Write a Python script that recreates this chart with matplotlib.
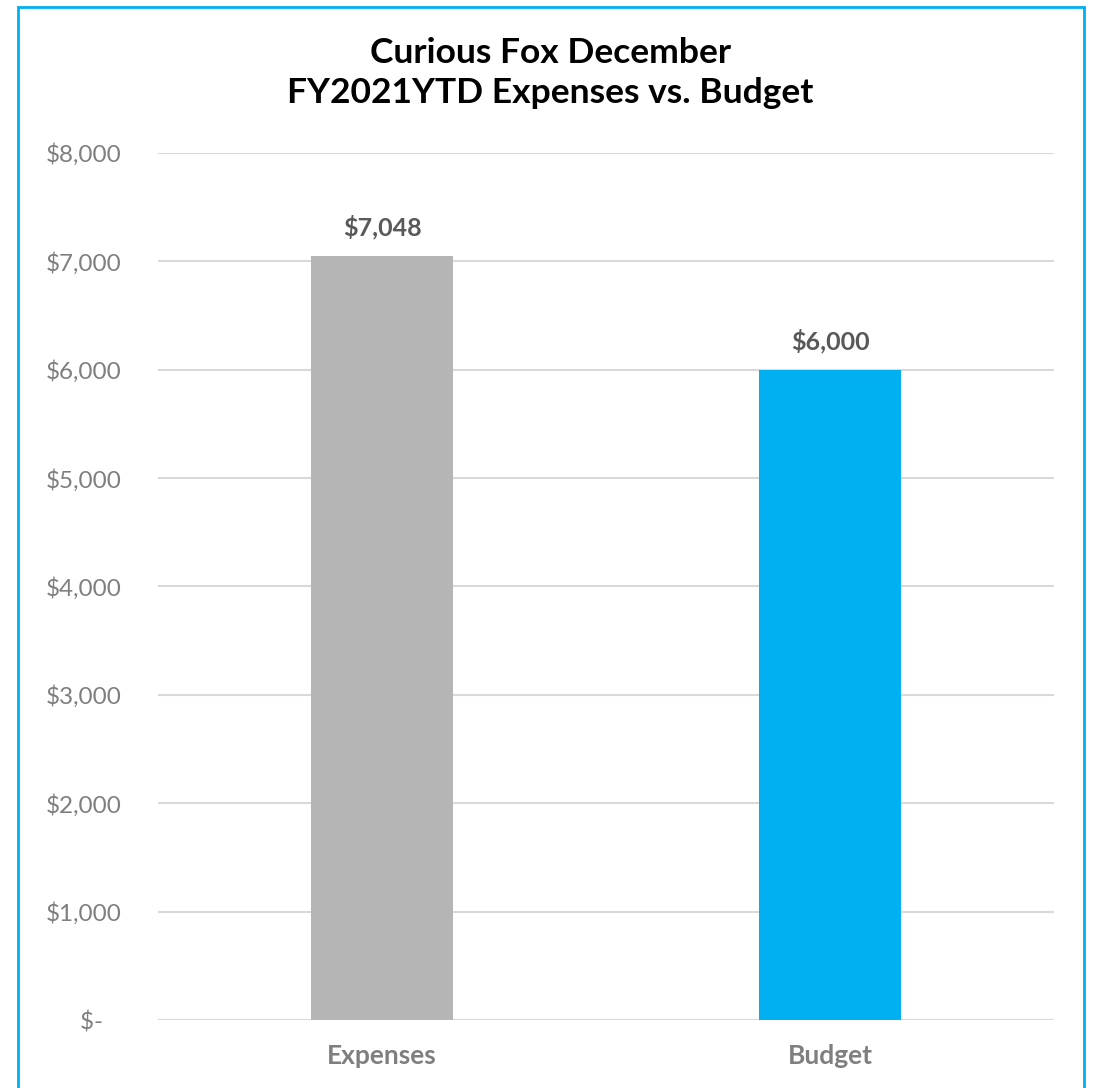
import matplotlib.pyplot as plt
from matplotlib.patches import Rectangle

# Data
categories = ['Expenses', 'Budget']
amounts = [7048, 6000]
bar_colors = ['#B5B5B5', '#00B0F0']
tick_values = [0, 1000, 2000, 3000, 4000, 5000, 6000, 7000, 8000]
tick_labels = ['$-   ', '$1,000', '$2,000', '$3,000', '$4,000', '$5,000',
               '$6,000', '$7,000', '$8,000']

plt.rcParams['font.family'] = ['Lato', 'DejaVu Sans']

fig = plt.figure(figsize=(10.94, 10.88), dpi=100)
ax = fig.add_axes([0.1444, 0.0625, 0.819, 0.7969])

ax.bar(range(len(categories)), amounts, width=0.315, color=bar_colors, zorder=3)

# Value labels above the bars
for i, v in enumerate(amounts):
    ax.annotate(f'${v:,}', (i, v), xytext=(0, 12), textcoords='offset points',
                ha='center', va='bottom', fontsize=18, fontweight='bold',
                color='#595959')

ax.set_xlim(-0.5, 1.5)
ax.set_ylim(0, 8000)
ax.set_yticks(tick_values)
ax.set_yticklabels(tick_labels)
ax.set_xticks(range(len(categories)))
ax.set_xticklabels(categories, fontsize=19, fontweight='bold', color='#7F7F7F')
ax.tick_params(axis='y', length=0, pad=26, labelsize=17.5, labelcolor='#7F7F7F')
ax.tick_params(axis='x', length=0, pad=17)
ax.grid(axis='y', color='#D9D9D9', linewidth=1.5, zorder=0)

for s in ax.spines.values():
    s.set_visible(False)

fig.text(0.503, 0.933, 'Curious Fox December\nFY2021YTD Expenses vs. Budget',
         ha='center', va='center', fontsize=25.5, fontweight='bold',
         color='black', linespacing=1.3)

# Chart border
fig.patches.append(Rectangle((0.0165, -0.02), 0.974, 1.014,
                             transform=fig.transFigure, fill=False,
                             edgecolor='#00B0F0', linewidth=2))

fig.savefig('out.png', dpi=100)
